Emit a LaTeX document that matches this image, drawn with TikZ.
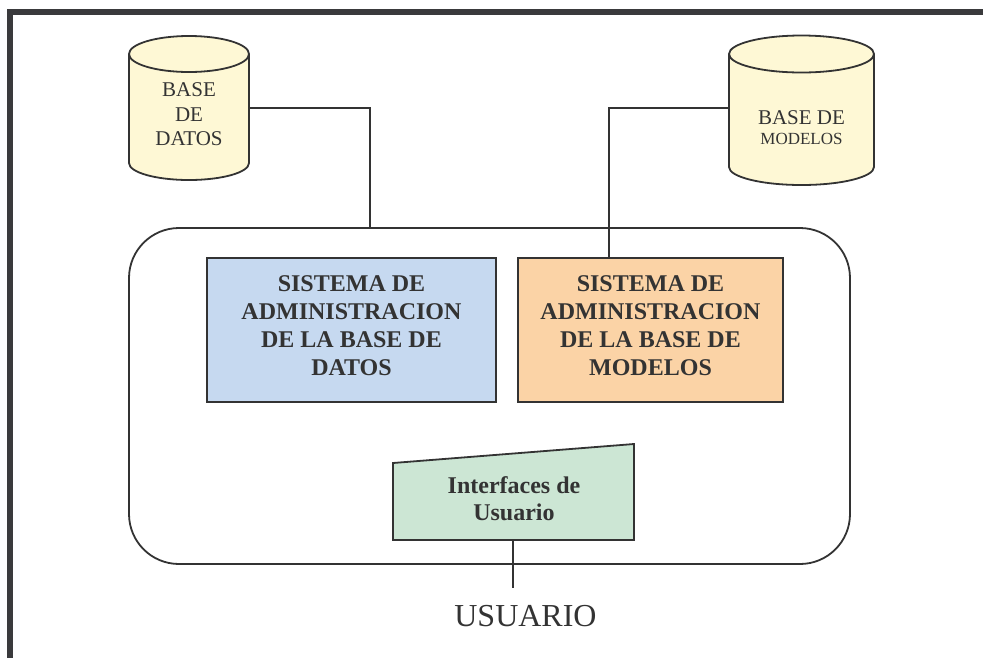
\documentclass[tikz,border=0pt]{standalone}
\usepackage{fontspec}
\setmainfont{Liberation Serif}
\definecolor{linegray}{HTML}{333333}
\definecolor{framegray}{HTML}{3A3A3C}
\definecolor{dbfill}{HTML}{FEF8D5}
\definecolor{bluefill}{HTML}{C6D9F0}
\definecolor{orangefill}{HTML}{FBD3A6}
\definecolor{greenfill}{HTML}{CCE6D4}
\definecolor{textgray}{HTML}{333333}
\begin{document}
\begin{tikzpicture}[x=1pt,y=-1pt,
  frame/.style={draw=framegray, line width=6pt, line join=miter},
  cyl/.style={draw=linegray, fill=dbfill, line width=1.8pt},
  anchorbox/.style={draw=none, inner sep=0pt, outer sep=0pt},
  cyltext/.style={text=textgray, align=center, inner sep=0pt},
  container/.style={draw=linegray, line width=1.8pt, rounded corners=50pt,
    inner sep=0pt, outer sep=0pt},
  sysbox/.style={draw=linegray, line width=2pt, inner sep=0pt, outer sep=0pt,
    align=center, text=textgray, font=\fontsize{24}{28}\selectfont\bfseries},
  uishape/.style={draw=linegray, fill=greenfill, line width=1.8pt},
  uitext/.style={text=textgray, align=center, inner sep=0pt,
    font=\fontsize{24}{27}\selectfont\bfseries},
  wire/.style={draw=linegray, line width=1.6pt},
  usrtext/.style={text=textgray, inner sep=0pt, font=\fontsize{32}{36}\selectfont}
]
\useasboundingbox (0,0) rectangle (983,657);

% open outer frame (left and top edges only)
\draw[frame] (9.7,700) -- (9.7,12) -- (1010,12);

% database cylinder
\filldraw[cyl] (129,54) -- (129,163)
  arc[start angle=180, end angle=0, x radius=60, y radius=17] -- (249,54);
\filldraw[cyl] (189,54) ellipse[x radius=60, y radius=18];
\node[anchorbox, minimum width=120pt, minimum height=144pt] (db) at (189,108) {};
\node[cyltext, font=\fontsize{21}{24.5}\selectfont] at (189,114.5) {BASE\\DE\\DATOS};

% model base cylinder
\filldraw[cyl] (729,54) -- (729,167)
  arc[start angle=180, end angle=0, x radius=72.5, y radius=18] -- (874,54);
\filldraw[cyl] (801.5,54) ellipse[x radius=72.5, y radius=18.5];
\node[anchorbox, minimum width=145pt, minimum height=144pt] (mb) at (801.5,108) {};
\node[cyltext, font=\fontsize{21}{20}\selectfont] at (801.5,127.5)
  {BASE DE\\{\fontsize{17}{20}\selectfont MODELOS}};

% decision support system container
\node[container, minimum width=721pt, minimum height=336pt] (dss) at (489.5,396) {};

% management subsystems
\node[sysbox, fill=bluefill, minimum width=289pt, minimum height=144pt] (sdb) at (351.5,330)
  {SISTEMA DE\\ADMINISTRACION\\DE LA BASE DE\\DATOS\\[-19pt]\mbox{}};
\node[sysbox, fill=orangefill, minimum width=265pt, minimum height=144pt] (smb) at (650.5,330)
  {SISTEMA DE\\ADMINISTRACION\\DE LA BASE DE\\MODELOS\\[-19pt]\mbox{}};

% user interface
\node[anchorbox, minimum width=241pt, minimum height=96pt] (ui) at (513.5,492) {};
\filldraw[uishape] (ui.south west) -- ([yshift=-19pt]ui.north west)
  -- (ui.north east) -- (ui.south east) -- cycle;
\node[uitext] at (514,498.5) {Interfaces de\\Usuario};

% user label, its lower edge trimmed
\begin{scope}
  \clip (420,590) rectangle (640,627.5);
  \node[usrtext, anchor=base] (usr) at (525.5,626.5) {USUARIO};
\end{scope}

% connectors
\coordinate (dbjoin) at (370,228);
\coordinate (mbjoin) at (609,258);
\coordinate (usrtop) at (513,588);
\draw[wire] (db.east) -| (dbjoin);
\draw[wire] (mb.west) -| (mbjoin);
\draw[wire] (ui.south -| usrtop) -- (usrtop);
\end{tikzpicture}
\end{document}
